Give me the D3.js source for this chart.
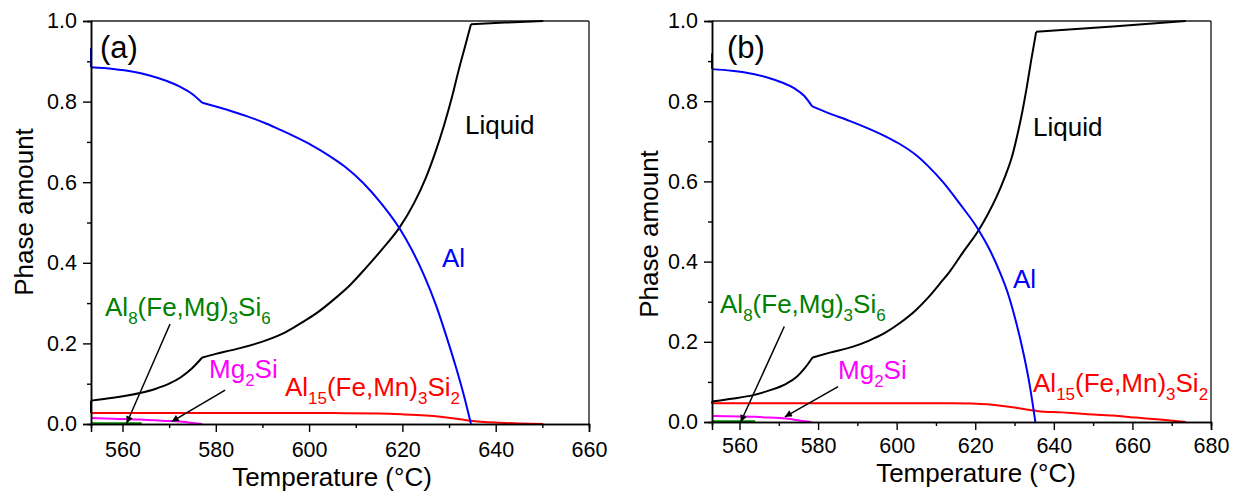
<!DOCTYPE html>
<html><head><meta charset="utf-8">
<script src="https://cdn.jsdelivr.net/npm/d3@7"></script>
<style>
html,body{margin:0;padding:0;background:#fff;}
svg{display:block;}
text{font-family:"Liberation Sans",Arial,sans-serif;}
</style></head>
<body>
<svg id="chart" width="1241" height="496"></svg>
<script>
// ---------- Panel (a) data ----------
const aXTicks = [560, 580, 600, 620, 640, 660];
const aXMinor = [570, 590, 610, 630, 650];
const aLiquid = [[553.25,0.027],[553.25,0.058],[558,0.065],[563.75,0.077],[567,0.087],[570,0.1],[572.5,0.116],[574.8,0.137],[577.1,0.165],[580,0.174],[583.7,0.184],[590.9,0.208],[595,0.228],[598.5,0.252],[601.6,0.275],[605.2,0.308],[608.8,0.345],[612,0.385],[615.9,0.437],[619.4,0.488],[622.5,0.548],[625,0.61],[627,0.672],[628.9,0.74],[630.6,0.81],[632,0.875],[633.5,0.94],[634.7,0.992],[642,0.996],[650.2,1.0]];
const aAl = [[553.25,0.933],[553.25,0.885],[558,0.881],[562.3,0.874],[566,0.864],[569.5,0.851],[572.3,0.837],[574.8,0.82],[577.1,0.797],[583.7,0.775],[586.6,0.764],[590.9,0.745],[594,0.729],[597.3,0.711],[600.5,0.692],[604,0.668],[607.5,0.64],[611.6,0.598],[615.5,0.547],[619.3,0.487],[621.9,0.435],[624.6,0.37],[627.2,0.295],[629.5,0.215],[631.5,0.14],[633.2,0.07],[634.7,0]];
const aAl15 = [[553.25,0.027],[570,0.027],[590,0.027],[605,0.027],[615,0.026],[620,0.024],[625,0.021],[628.1,0.018],[632.4,0.012],[634.6,0.008],[641,0.003],[645,0.0015],[650.2,0]];
const aMg2Si = [[553.25,0.015],[558,0.013],[563.7,0.011],[567,0.009],[570.2,0.0075],[573.4,0.005],[575.5,0.002],[577.1,0]];
const aAl8 = [[553.25,0.002],[564.1,0.002]];

// ---------- Panel (b) data ----------
const bXTicks = [560, 580, 600, 620, 640, 660, 680];
const bXMinor = [570, 590, 610, 630, 650, 670];
const bLiquid = [[553,0.046],[553,0.051],[558,0.058],[563.5,0.067],[568,0.08],[572,0.096],[574.5,0.112],[576.5,0.133],[578.6,0.161],[583,0.173],[588.9,0.188],[593,0.203],[597,0.222],[601,0.248],[605,0.28],[608,0.31],[611,0.345],[613.5,0.375],[617,0.425],[620.9,0.479],[623.2,0.518],[625.35,0.56],[627.5,0.61],[629.3,0.66],[630.7,0.715],[632,0.775],[633.2,0.84],[634.2,0.9],[635.5,0.973],[655,0.986],[673.6,1.0]];
const bAl = [[553,0.919],[553,0.880],[558,0.876],[563.5,0.868],[567.5,0.858],[571,0.846],[574,0.832],[576.5,0.813],[578.5,0.787],[583,0.769],[588,0.751],[593,0.731],[597.4,0.711],[601,0.692],[605,0.665],[608,0.638],[611.8,0.598],[616,0.545],[620.85,0.479],[623.65,0.43],[626.2,0.375],[628.5,0.315],[630.5,0.245],[632.3,0.17],[633.8,0.095],[635.3,0]];
const bAl15 = [[553,0.047],[580,0.047],[600,0.047],[614,0.047],[619,0.046],[623,0.044],[627,0.04],[630,0.036],[633,0.031],[636,0.027],[642,0.024],[648,0.02],[655,0.016],[661,0.011],[667,0.006],[673.6,0]];
const bMg2Si = [[553,0.015],[560,0.014],[564,0.013],[567.7,0.011],[572.4,0.008],[574.5,0.005],[576.5,0.002],[578.3,0]];
const bAl8 = [[553,0.002],[564,0.002]];

const yTicks = [0.0, 0.2, 0.4, 0.6, 0.8, 1.0];
const yMinor = [0.1, 0.3, 0.5, 0.7, 0.9];

const colors = {Liquid:"#000000", Al:"#0000ff", Al15:"#ff0000", Mg2Si:"#ff00ff", Al8:"#008000"};

const svg = d3.select("#chart");
svg.append("rect").attr("width",1241).attr("height",496).attr("fill","#fff");

const defs = svg.append("defs");
defs.append("marker").attr("id","ah").attr("viewBox","0 0 10 10").attr("refX",10).attr("refY",5)
  .attr("markerWidth",11).attr("markerHeight",7).attr("markerUnits","userSpaceOnUse").attr("orient","auto")
  .append("path").attr("d","M0,0 L10,5 L0,10 Z").attr("fill","#000");

function subText(g, x, y, parts, color, anchor){
  const t = g.append("text").attr("x",x).attr("y",y).attr("fill",color).attr("font-size",26)
    .attr("text-anchor",anchor||"start");
  let shifted = false;
  parts.forEach(p=>{
    if (p[1]) {
      t.append("tspan").attr("font-size",17).attr("dy", shifted?0:8).text(p[0]);
      shifted = true;
    } else {
      t.append("tspan").attr("dy", shifted?-8:0).text(p[0]);
      shifted = false;
    }
  });
  return t;
}

// split a series at sharp corners (in pixel space) so each smooth piece is curved separately
function splitAtKinks(data, x, y, maxTurnDeg){
  const pts = data.map(d=>[x(d[0]), y(d[1])]);
  const pieces = []; let cur = [data[0]];
  for (let i=1;i<data.length;i++){
    cur.push(data[i]);
    if (i < data.length-1){
      const a1 = Math.atan2(pts[i][1]-pts[i-1][1], pts[i][0]-pts[i-1][0]);
      const a2 = Math.atan2(pts[i+1][1]-pts[i][1], pts[i+1][0]-pts[i][0]);
      let turn = Math.abs(a2-a1)*180/Math.PI; if (turn>180) turn = 360-turn;
      if (turn > maxTurnDeg){ pieces.push(cur); cur = [data[i]]; }
    }
  }
  pieces.push(cur);
  return pieces;
}

function drawPanel(cfg){
  const x = d3.scaleLinear().domain(cfg.xDomain).range([cfg.left, cfg.right]);
  const y = d3.scaleLinear().domain([0,1]).range([cfg.bottom, cfg.top]);
  const g = svg.append("g");

  g.append("line").attr("x1",cfg.left).attr("x2",cfg.right).attr("y1",cfg.top).attr("y2",cfg.top).attr("stroke","#222").attr("stroke-width",1.4);
  g.append("line").attr("x1",cfg.right).attr("x2",cfg.right).attr("y1",cfg.top).attr("y2",cfg.bottom).attr("stroke","#222").attr("stroke-width",1.4);

  const line = d3.line().x(d=>x(d[0])).y(d=>y(d[1])).curve(d3.curveMonotoneX);
  const series = [
    [cfg.al15, colors.Al15],
    [cfg.liquid, colors.Liquid],
    [cfg.al, colors.Al],
    [cfg.mg2si, colors.Mg2Si],
    [cfg.al8, colors.Al8]
  ];
  series.forEach(s=>{
    const pieces = splitAtKinks(s[0], x, y, 22);
    const dStr = pieces.map(p=>line(p)).join("");
    g.append("path").attr("d",dStr).attr("fill","none").attr("stroke",s[1]).attr("stroke-width",2).attr("stroke-linejoin","round");
  });

  const xMinorAx = g.append("g").attr("transform",`translate(0,${cfg.bottom})`)
    .call(d3.axisBottom(x).tickValues(cfg.xMinor).tickSize(4).tickFormat(""));
  const xAx = g.append("g").attr("transform",`translate(0,${cfg.bottom})`)
    .call(d3.axisBottom(x).tickValues(cfg.xTicks).tickSize(8).tickPadding(cfg.xPad).tickFormat(d3.format("d")));
  const yMinorAx = g.append("g").attr("transform",`translate(${cfg.left},0)`)
    .call(d3.axisLeft(y).tickValues(yMinor).tickSize(4).tickFormat(""));
  const yAx = g.append("g").attr("transform",`translate(${cfg.left},0)`)
    .call(d3.axisLeft(y).tickValues(yTicks).tickSize(8).tickPadding(6).tickFormat(d3.format(".1f")));
  [xMinorAx,xAx,yMinorAx,yAx].forEach(a=>{
    a.selectAll("path").attr("stroke","#000").attr("stroke-width",1.5);
    a.selectAll("line").attr("stroke","#000").attr("stroke-width",1.4);
    a.selectAll("text").attr("font-size",21.5).attr("fill","#000").attr("font-family","'Liberation Sans',Arial,sans-serif");
  });

  g.append("text").attr("x",cfg.xTitle[0]).attr("y",cfg.xTitle[1]).attr("text-anchor","middle")
    .attr("font-size",26).text("Temperature (°C)");
  g.append("text").attr("transform",`translate(${cfg.yTitle[0]},${cfg.yTitle[1]}) rotate(-90)`).attr("text-anchor","middle")
    .attr("font-size",26).text("Phase amount");

  g.append("text").attr("x",cfg.tag[0]).attr("y",cfg.tag[1]).attr("font-size",31)
    .attr("font-family","Lato,'Open Sans',sans-serif").text(cfg.tagText);

  g.append("text").attr("x",cfg.liqLab[0]).attr("y",cfg.liqLab[1]).attr("font-size",26).attr("fill",colors.Liquid).text("Liquid");
  g.append("text").attr("x",cfg.alLab[0]).attr("y",cfg.alLab[1]).attr("font-size",26).attr("fill",colors.Al).text("Al");
  subText(g, cfg.al8Lab[0], cfg.al8Lab[1], [["Al"],["8",1],["(Fe,Mg)"],["3",1],["Si"],["6",1]], colors.Al8);
  subText(g, cfg.mgLab[0], cfg.mgLab[1], [["Mg"],["2",1],["Si"]], colors.Mg2Si);
  subText(g, cfg.al15Lab[0], cfg.al15Lab[1], [["Al"],["15",1],["(Fe,Mn)"],["3",1],["Si"],["2",1]], colors.Al15, cfg.al15Anchor);

  cfg.arrows.forEach(a=>{
    g.append("line").attr("x1",x(a[0][0])).attr("y1",y(a[0][1])).attr("x2",x(a[1][0])).attr("y2",y(a[1][1]))
      .attr("stroke","#000").attr("stroke-width",1.5).attr("marker-end","url(#ah)");
  });
}

drawPanel({
  left:91, right:589, top:21, bottom:424, xDomain:[553.25,660],
  xTicks:aXTicks, xMinor:aXMinor, xPad:10,
  liquid:aLiquid, al:aAl, al15:aAl15, mg2si:aMg2Si, al8:aAl8,
  xTitle:[332,486], yTitle:[33,212], tag:[100,58], tagText:"(a)",
  liqLab:[465,134], alLab:[442,267], al8Lab:[105,316], mgLab:[209,378], al15Lab:[460,396], al15Anchor:"end",
  arrows:[[[570.2,0.248],[560.9,0.002]],[[582.0,0.084],[570.55,0.006]]]
});
drawPanel({
  left:712, right:1211, top:21, bottom:422, xDomain:[553,680],
  xTicks:bXTicks, xMinor:bXMinor, xPad:8,
  liquid:bLiquid, al:bAl, al15:bAl15, mg2si:bMg2Si, al8:bAl8,
  xTitle:[976,482], yTitle:[658,234], tag:[727,58], tagText:"(b)",
  liqLab:[1033,136], alLab:[1013,288], al8Lab:[720,313], mgLab:[838,379], al15Lab:[1033,392], al15Anchor:"start",
  arrows:[[[571.4,0.238],[560.3,0.0]],[[585.1,0.088],[571.55,0.013]]]
});
</script>
</body></html>
